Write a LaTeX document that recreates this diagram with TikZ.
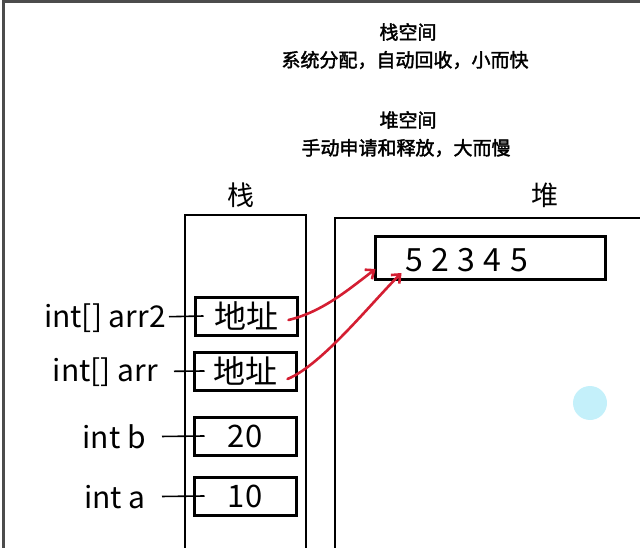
\documentclass[tikz,border=0pt]{standalone}
\usepackage{fontspec}
\newfontfamily\cjk{Noto Sans CJK SC}
\newfontfamily\cjkbold[FakeBold=2]{Noto Sans CJK SC}
\usetikzlibrary{arrows.meta}
\definecolor{penred}{RGB}{212,30,50}
\definecolor{cursorblue}{RGB}{196,240,250}
\tikzset{%
  note/.style={font=\cjkbold\fontsize{19}{19}\selectfont,inner sep=0},
  title/.style={font=\cjk\fontsize{27}{27}\selectfont,inner sep=0},
  var/.style={font=\cjk\fontsize{30}{30}\selectfont,inner sep=0,anchor=east},
  slot/.style={draw,line width=3,minimum width=102,minimum height=38,inner sep=0,font=\cjk\fontsize{31}{31}\selectfont},
  arrbox/.style={draw,line width=3,minimum width=230,minimum height=43,inner sep=0},
  vals/.style={font=\cjk\fontsize{32}{32}\selectfont,inner sep=0,anchor=west},
  region/.style={draw,line width=2.6},
  frame/.style={draw=black!70,line width=3},
  link/.style={draw,line width=1.6,shorten <=3},
  pen/.style={draw=penred,line width=2.6,line cap=round,-{Straight Barb[length=7,width=12,line width=2.6]}}
}
\begin{document}
\begin{tikzpicture}[x=1pt,y=-1pt]
    \useasboundingbox (0,0) rectangle (640,548);
    \draw[frame] (3,548) -- (3,2) -- (640,2);
    \path
      (408,32) node[note] (stacknote) {栈空间}
      (405,60) node[note] (stackdesc) {系统分配，自动回收，小而快}
      (408,120) node[note] (heapnote) {堆空间}
      (406,148) node[note] (heapdesc) {手动申请和释放，大而慢}
      (241,195) node[title] (stacktitle) {栈}
      (545,195) node[title] (heaptitle) {堆};
    \draw[region] (185,552) -- (185,215) -- (306,215) -- (306,552);
    \draw[region] (335,552) -- (335,218) -- (645,218);
    \fill[cursorblue] (590,403) circle (17);
    \path
      (246,316) node[slot] (slotarrtwo) {\fontsize{32}{32}\selectfont 地址}
      (245,371) node[slot] (slotarr) {\fontsize{32}{32}\selectfont 地址}
      (245,436) node[slot] (slotb) {20}
      (245,496) node[slot] (slota) {10}
      (166,318) node[var] (vararrtwo) {int[] arr2}
      (158,372) node[var] (vararr) {int[] arr}
      (146,437) node[var] (varb) {int b}
      (146,497) node[var] (vara) {int a}
      (490,258) node[arrbox] (heaparr) {}
      (405,260) node[vals] (heapvals) {\spaceskip=8.5pt 5 2 3 4 5};
    \draw[link] (vararrtwo) -- ([xshift=10]slotarrtwo.west);
    \draw[link,shorten <=16] (vararr) -- ([xshift=12]slotarr.west);
    \draw[link,shorten <=16] (varb) -- ([xshift=12]slotb.west);
    \draw[link,shorten <=16] (vara) -- ([xshift=12]slota.west);
    \draw[pen] ([shift={(-10,4)}]slotarrtwo.east) .. controls (322,312) and (348,290) .. ([shift={(2,-12)}]heaparr.south west);
    \draw[pen] ([shift={(-10,8)}]slotarr.east) .. controls (322,365) and (372,302) .. ([shift={(28,-8)}]heaparr.south west);
\end{tikzpicture}
\end{document}
